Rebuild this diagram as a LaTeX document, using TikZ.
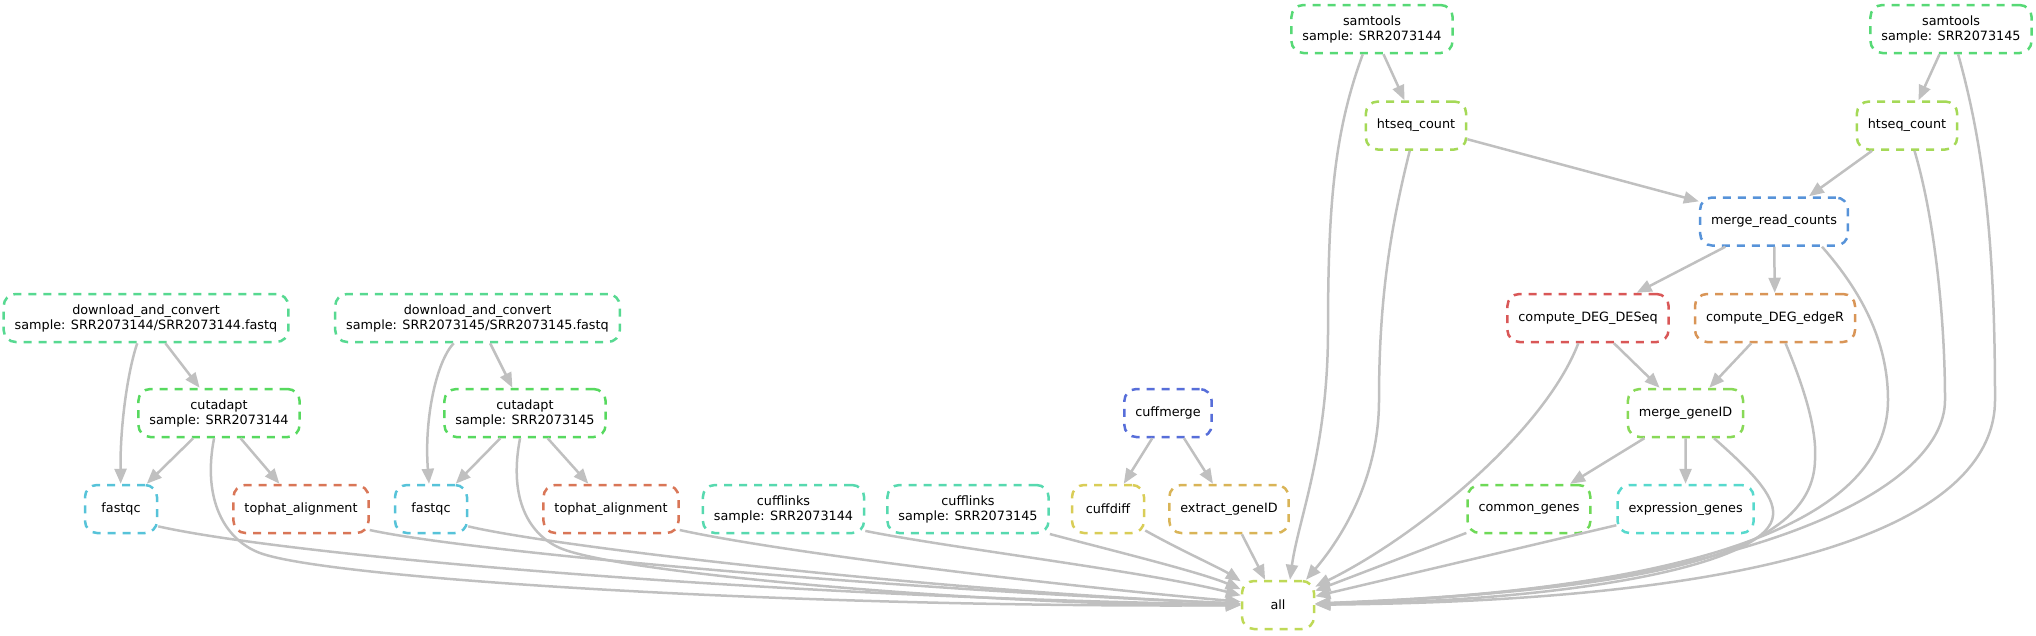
\documentclass[tikz,border=0pt]{standalone}
\usepackage{fontspec}
\newfontfamily\jobfont{DejaVu Sans}
\usetikzlibrary{arrows.meta}
\definecolor{edgegray}{RGB}{192,192,192}
\definecolor{cDESeq}{RGB}{217,87,87}
\definecolor{cTophat}{RGB}{217,118,87}
\definecolor{cEdgeR}{RGB}{217,149,87}
\definecolor{cExtract}{RGB}{217,180,87}
\definecolor{cCuffdiff}{RGB}{217,205,87}
\definecolor{cAll}{RGB}{191,217,87}
\definecolor{cHtseq}{RGB}{165,217,87}
\definecolor{cMergeGene}{RGB}{136,217,87}
\definecolor{cCommon}{RGB}{110,217,87}
\definecolor{cCutadapt}{RGB}{87,217,95}
\definecolor{cSamtools}{RGB}{87,217,118}
\definecolor{cDownload}{RGB}{87,217,145}
\definecolor{cCufflinks}{RGB}{87,217,175}
\definecolor{cExpr}{RGB}{87,217,205}
\definecolor{cFastqc}{RGB}{87,195,217}
\definecolor{cMergeRead}{RGB}{87,147,217}
\definecolor{cCuffmerge}{RGB}{87,110,217}
\tikzset{
  job/.style={draw=#1, line width=2.5pt, dash pattern=on 8pt off 7pt,
    rounded corners=12pt, minimum width=72pt, minimum height=48pt,
    inner xsep=11pt, inner ysep=3pt, align=center, text=black,
    font={\jobfont\fontsize{12.8pt}{15pt}\selectfont}},
  dep/.style={draw=edgegray, line width=2.5pt,
    -{Triangle[length=15pt,width=12pt]}},
}
\begin{document}
\begin{tikzpicture}[x=1pt,y=-1pt]
\useasboundingbox (0,0) rectangle (2036,635);

% nodes
\node[job=cSamtools] (sam1) at (1372,29) {samtools\\sample: SRR2073144};
\node[job=cSamtools] (sam2) at (1951,29) {samtools\\sample: SRR2073145};
\node[job=cHtseq] (ht1) at (1416,125.5) {htseq\_count};
\node[job=cHtseq] (ht2) at (1907,125.5) {htseq\_count};
\node[job=cMergeRead] (mrc) at (1774,221.5) {merge\_read\_counts};
\node[job=cDownload] (dl1) at (146,318) {download\_and\_convert\\sample: SRR2073144/SRR2073144.fastq};
\node[job=cDownload] (dl2) at (477.5,318) {download\_and\_convert\\sample: SRR2073145/SRR2073145.fastq};
\node[job=cDESeq] (deseq) at (1588,318) {compute\_DEG\_DESeq};
\node[job=cEdgeR] (edger) at (1775,318) {compute\_DEG\_edgeR};
\node[job=cCutadapt] (cut1) at (219,413) {cutadapt\\sample: SRR2073144};
\node[job=cCutadapt] (cut2) at (525,413) {cutadapt\\sample: SRR2073145};
\node[job=cCuffmerge] (cmerge) at (1168,413) {cuffmerge};
\node[job=cMergeGene] (mgid) at (1685.5,413) {merge\_geneID};
\node[job=cFastqc] (fq1) at (121,509) {fastqc};
\node[job=cTophat] (th1) at (301,509) {tophat\_alignment};
\node[job=cFastqc] (fq2) at (431,509) {fastqc};
\node[job=cTophat] (th2) at (611,509) {tophat\_alignment};
\node[job=cCufflinks] (cl1) at (783.5,509) {cufflinks\\sample: SRR2073144};
\node[job=cCufflinks] (cl2) at (968,509) {cufflinks\\sample: SRR2073145};
\node[job=cCuffdiff] (cdiff) at (1108,509) {cuffdiff};
\node[job=cExtract] (extract) at (1229,509) {extract\_geneID};
\node[job=cCommon] (common) at (1529,509) {common\_genes};
\node[job=cExpr] (expr) at (1685.6,509) {expression\_genes};
\node[job=cAll] (all) at (1278,605) {all};

% straight edges
\draw[dep] (sam1) -- (ht1);
\draw[dep] (sam2) -- (ht2);
\draw[dep] (ht1) -- (mrc);
\draw[dep] (ht2) -- (mrc);
\draw[dep] (mrc) -- (deseq);
\draw[dep] (mrc) -- (edger);
\draw[dep] (deseq) -- (mgid);
\draw[dep] (edger) -- (mgid);
\draw[dep] (mgid) -- (common);
\draw[dep] (mgid) -- (expr);
\draw[dep] (cmerge) -- (cdiff);
\draw[dep] (cmerge) -- (extract);
\draw[dep] (dl1) -- (cut1);
\draw[dep] (dl2) -- (cut2);
\draw[dep] (cut1) -- (fq1);
\draw[dep] (cut1) -- (th1);
\draw[dep] (cut2) -- (fq2);
\draw[dep] (cut2) -- (th2);
\draw[dep] (extract) -- (all);
\draw[dep] (common) -- (all);
\draw[dep] (expr) -- (all);

% curved edges, left part
\draw[dep] (dl1) .. controls (128,370) and (120,425) .. (fq1);
\draw[dep] (dl2) .. controls (436,362) and (424,420) .. (fq2);
\draw[dep] (cut1) .. controls (202,500) and (225,540) .. (260,553)
  .. controls (330,579) and (800,608) .. (all);
\draw[dep] (cut2) .. controls (508,500) and (530,535) .. (560,548)
  .. controls (620,574) and (1000,606) .. (all);
\draw[dep] (fq1.-25) .. controls (300,558) and (800,598) .. (all);
\draw[dep] (th1.-17) .. controls (470,552) and (900,590) .. (all);
\draw[dep] (fq2.-25) .. controls (560,548) and (950,592) .. (all);
\draw[dep] (th2.-17) .. controls (780,552) and (1050,585) .. (all);
\draw[dep] (cl1.-15) .. controls (950,548) and (1150,572) .. (all);
\draw[dep] (cl2.-17) .. controls (1110,550) and (1200,572) .. (all);
\draw[dep] (cdiff.-30) .. controls (1180,550) and (1220,568) .. (all);

% curved edges, right part
\draw[dep] (sam1) .. controls (1335,130) and (1328,200) .. (1328,330)
  .. controls (1328,450) and (1298,520) .. ([xshift=12pt]all.north);
\draw[dep] (ht1) .. controls (1390,230) and (1379,300) .. (1379,400)
  .. controls (1379,480) and (1340,540) .. ([xshift=28pt]all.north);
\draw[dep] (deseq) .. controls (1545,430) and (1420,535) .. (all);
\draw[dep] (mgid) .. controls (1750,470) and (1775,495) .. (1773,515)
  .. controls (1771,560) and (1600,600) .. (all);
\draw[dep] (edger) .. controls (1805,390) and (1817,430) .. (1815,460)
  .. controls (1813,555) and (1650,590) .. (all);
\draw[dep] ([xshift=48pt]mrc.south) .. controls (1860,290) and (1888,340) .. (1888,400)
  .. controls (1888,520) and (1700,590) .. (all);
\draw[dep] (ht2) .. controls (1935,220) and (1945,320) .. (1945,400)
  .. controls (1945,490) and (1750,590) .. (all);
\draw[dep] (sam2) .. controls (1985,150) and (1995,250) .. (1995,400)
  .. controls (1995,500) and (1850,600) .. (all);
\end{tikzpicture}
\end{document}
